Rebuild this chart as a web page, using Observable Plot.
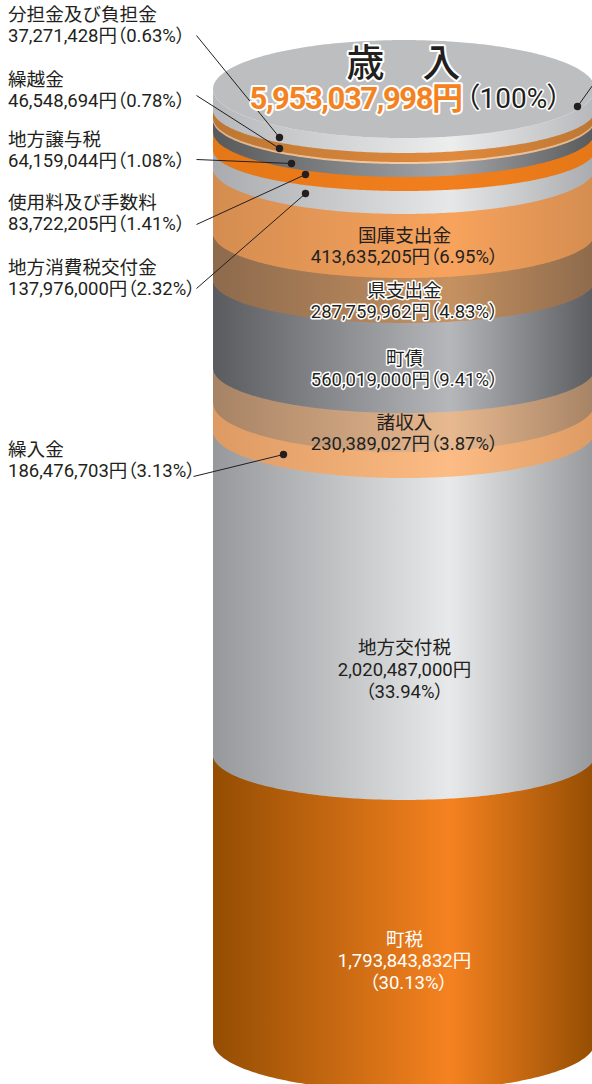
<!DOCTYPE html>
<html lang="ja"><head><meta charset="utf-8">
<style>
html,body{margin:0;padding:0;background:#fff;overflow:hidden}
svg{display:block}
</style>
<script src="https://cdn.jsdelivr.net/npm/d3@7"></script>
<script src="https://cdn.jsdelivr.net/npm/@observablehq/plot@0.6"></script>
</head><body>
<script>
// --- values -----------------------------------------------------------
const total = 5953037998;
const sideNames = ["分担金及び負担金","繰越金","地方譲与税","使用料及び手数料","地方消費税交付金","繰入金"];
const sideAmounts = [37271428,46548694,64159044,83722205,137976000,186476703];
const sideShares = ["0.63","0.78","1.08","1.41","2.32","3.13"];
const bodyNames = ["国庫支出金","県支出金","町債","諸収入","地方交付税","町税"];
const bodyAmounts = [413635205,287759962,560019000,230389027,2020487000,1793843832];
const bodyShares = ["6.95","4.83","9.41","3.87","33.94","30.13"];
// drawn thickness of each ring, top to bottom, in % of the stack's height
const ringKeys = ["分担金及び負担金","繰越金","縁","地方譲与税","使用料及び手数料","地方消費税交付金","国庫支出金","県支出金","町債","諸収入","繰入金","地方交付税","町税"];
const ringDepth = [1.57,0.95,0.21,1.36,1.47,2.41,6.72,4.72,9.45,4.09,2.73,33.78,30.54];
// how far each ring boundary sags at the middle of the cylinder, in the same units
const ringSag = [5.14,4.51,4.62,4.62,4.72,4.30,4.83,4.72,4.51,4.72,5.14,4.93,4.72,5.14];
const ringEdge = ["#b6b8bb","#bd7733","#dfb48d","#58595b","#e57716","#a9abae","#d48d50","#8d6a4c","#5a5b5e","#a68365","#dd9a62","#96989b","#944d02"];
const ringLight = ["#eceded","#e08a3e","#f8cfa7","#a3a5a8","#f27f1e","#e6e7e8","#f8a35d","#c59161","#b5b7ba","#e8b990","#fdbc85","#e8e9ea","#f58220"];
// ----------------------------------------------------------------------
const W = 592, H = 1084;
const yen = d3.format(",");
const sx = px => (px - 404) / 191;
const sy = py => (py - 138) / 9.53;
const bounds = [0, ...d3.cumsum(ringDepth)];
const us = d3.range(0, 181).map(i => -Math.cos(i * Math.PI / 180));
const arc = u => Math.sqrt(Math.max(0, 1 - u * u));

const grads = () => {
  const ns = "http://www.w3.org/2000/svg";
  const defs = document.createElementNS(ns, "defs");
  ringKeys.forEach((_, i) => {
    const g = document.createElementNS(ns, "linearGradient");
    g.setAttribute("id", "g" + i);
    [[0, ringEdge[i]], [0.62, ringLight[i]], [1, ringEdge[i]]].forEach(([o, c]) => {
      const s = document.createElementNS(ns, "stop");
      s.setAttribute("offset", o); s.setAttribute("stop-color", c);
      g.appendChild(s);
    });
    defs.appendChild(g);
  });
  return defs;
};

// lower rings are painted first, each upper ring covers the seam
const ringMarks = ringKeys.map((_, i) => Plot.areaY(us, {
  x: u => u,
  y1: u => bounds[i] - ringSag[i] * (1 - arc(u)) - (i ? 0.1 : 0),
  y2: u => bounds[i + 1] - ringSag[i + 1] * (1 - arc(u)),
  fill: `url(#g${i})`, curve: "linear"
})).reverse();

const discMid = -ringSag[0];
const disc = Plot.areaY(us, {
  x: u => u,
  y1: u => discMid - ringSag[0] * arc(u),
  y2: u => discMid + ringSag[0] * arc(u),
  fill: "#bcbec0", curve: "linear"
});

// leader lines: label side -> dot
const leaders = [
  [196,35,279,137],[196,95,279,148],[196,159,291,163],
  [196,224,305,174],[196,288,305,193],[193,476,283,454],[597,78,577,106]
].map(([a,b,c,d]) => ({x1:sx(a),y1:sy(b),x2:sx(c),y2:sy(d)}));

const sideRows = [15,80,140,203,268,450];
const nameLabels = sideNames.map((n,i) => ({t:n, x:sx(7.5), y:sy(sideRows[i])}));
const sideAmountLabels = sideNames.map((n,i) => ({t:`${yen(sideAmounts[i])}円（${sideShares[i]}%）`, x:sx(7.5), y:sy(sideRows[i]+21)}));
const bodyRows = [236,291,359,423];
const bodyNameLabels = [0,1,2,3].map(i => ({t:bodyNames[i], y:sy(bodyRows[i]), halo:i==1||i==2}));
const bodyAmtLabels = [0,1,2,3].map(i => ({t:`${yen(bodyAmounts[i])}円（${bodyShares[i]}%）`, y:sy(bodyRows[i]+21), halo:i==1||i==2}));
const ink = "#231f20";
const font = "Roboto, 'Noto Sans CJK JP', sans-serif";
const nameStyle = {fontFamily:font, fontSize:18.6, fontWeight:400, fill:ink};
const amtStyle = {fontFamily:font, fontSize:18.5, fill:ink};
const halo = {stroke:"#fff",strokeWidth:3,paintOrder:"stroke"};

const plot = Plot.plot({
  width:W, height:H, margin:0,
  x:{domain:[-1,1], range:[213,595], axis:null},
  y:{domain:[0,100], range:[138,1091], axis:null},
  marks:[
    grads,
    ...ringMarks,
    disc,
    Plot.link(leaders,{x1:"x1",y1:"y1",x2:"x2",y2:"y2",stroke:ink,strokeWidth:1}),
    Plot.dot(leaders,{x:"x2",y:"y2",r:3.7,fill:ink}),
    Plot.text(nameLabels,{...nameStyle,x:"x",y:"y",text:"t",textAnchor:"start"}),
    Plot.text(sideAmountLabels,{...amtStyle,x:"x",y:"y",text:"t",textAnchor:"start"}),
    Plot.text(bodyNameLabels.filter(d=>!d.halo),{...nameStyle,x:()=>0,y:"y",text:"t"}),
    Plot.text(bodyAmtLabels.filter(d=>!d.halo),{...amtStyle,x:()=>0,y:"y",text:"t"}),
    Plot.text(bodyNameLabels.filter(d=>d.halo),{...nameStyle,...halo,x:()=>0,y:"y",text:"t"}),
    Plot.text(bodyAmtLabels.filter(d=>d.halo),{...amtStyle,...halo,x:()=>0,y:"y",text:"t"}),
    Plot.text([bodyNames[4]],{...nameStyle,x:()=>0,y:()=>sy(648),text:d=>d}),
    Plot.text([yen(bodyAmounts[4])+"円"],{...amtStyle,x:()=>0,y:()=>sy(670),text:d=>d}),
    Plot.text([`（${bodyShares[4]}%）`],{...amtStyle,x:()=>0,y:()=>sy(692),text:d=>d}),
    Plot.text([bodyNames[5]],{...nameStyle,fill:"#fff",x:()=>0,y:()=>sy(940),text:d=>d}),
    Plot.text([yen(bodyAmounts[5])+"円"],{...amtStyle,fill:"#fff",x:()=>0,y:()=>sy(961),text:d=>d}),
    Plot.text([`（${bodyShares[5]}%）`],{...amtStyle,fill:"#fff",x:()=>sx(408),y:()=>sy(983),text:d=>d}),
    Plot.text(["歳　入"],{fontFamily:font,fontSize:38,fontWeight:500,fill:ink,stroke:"#fff",strokeWidth:4,paintOrder:"stroke",x:()=>sx(403),y:()=>sy(63),text:d=>d}),
    Plot.text([yen(total)+"円"],{fontFamily:font,fontSize:31,fontWeight:700,fill:"#f58220",stroke:"#fff",strokeWidth:4,paintOrder:"stroke",x:()=>sx(249),y:()=>sy(99),text:d=>d,textAnchor:"start"}),
    Plot.text(["（100%）"],{fontFamily:font,fontSize:28,fill:ink,stroke:"#fff",strokeWidth:3,paintOrder:"stroke",x:()=>sx(465),y:()=>sy(99),text:d=>d,textAnchor:"start"})
  ]
});
document.body.appendChild(plot);
d3.select(plot).selectAll("text").each(function(){
  const s = this.textContent;
  if (s.includes("%")) this.style.fontFeatureSettings = '"palt"';
  if (s.startsWith("5,953")) { this.style.letterSpacing = "-1.4px"; }
});
</script>
</body></html>
